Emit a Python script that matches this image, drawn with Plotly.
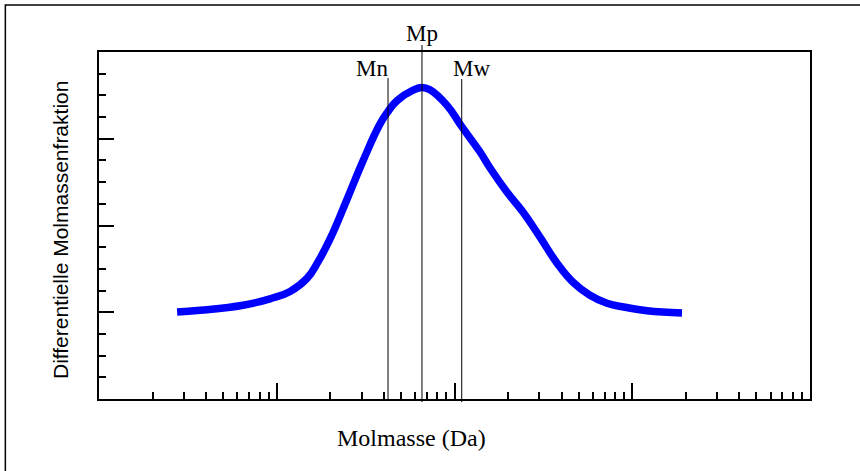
import math
import plotly.graph_objects as go

# Molmasse (Da) and differential mass fraction
molmasse = [275, 370, 646, 916, 1189, 1479, 1706, 1995, 2483, 3055, 3811, 4227,
            4753, 5848, 6561, 7278, 9078, 11015, 13900, 15850, 19720, 24270,
            30270, 37760, 46450, 57810, 72110, 90990, 121100, 190500]
fraktion = [0.003, 0.023, 0.081, 0.155, 0.240, 0.390, 0.580, 0.845, 1.300, 1.744,
            2.171, 2.315, 2.440, 2.560, 2.592, 2.565, 2.385, 2.136, 1.850, 1.663,
            1.386, 1.155, 0.866, 0.566, 0.346, 0.196, 0.104, 0.058, 0.017, -0.008]

marker_names = ["Mn", "Mp", "Mw"]
marker_values = [4227, 6561, 10980]

fig = go.Figure()
fig.add_trace(go.Scatter(
    x=molmasse, y=fraktion, mode="lines",
    line=dict(color="#0000ff", width=7.5, shape="spline", smoothing=1.3),
    showlegend=False, hoverinfo="skip"))

serif = "Liberation Serif, Times New Roman, serif"
# line extents in paper coordinates and label positions
line_spans = {"Mn": (0.0, 0.925), "Mp": (-0.009, 1.02), "Mw": (-0.009, 0.922)}
label_y = {"Mn": 0.912, "Mp": 1.012, "Mw": 0.912}
label_dx = {"Mn": -16, "Mp": 0, "Mw": 10}
for name, val in zip(marker_names, marker_values):
    y0, y1 = line_spans[name]
    fig.add_shape(type="line", xref="x", yref="paper", x0=val, x1=val, y0=y0, y1=y1,
                  line=dict(color="black", width=1))
    fig.add_annotation(x=math.log10(val), xref="x", yref="paper", y=label_y[name], text=name,
                       showarrow=False, xanchor="center", yanchor="bottom", xshift=label_dx[name],
                       font=dict(family=serif, size=23, color="black"))

# outer border (cropped on right/bottom)
fig.add_shape(type="rect", xref="paper", yref="paper", x0=-0.1317, x1=1.2, y0=-0.3, y1=1.1354,
              line=dict(color="black", width=1.5), layer="below")

fig.add_annotation(xref="paper", yref="paper", x=(411 - 99) / 711, y=(399 - 438) / 347,
                   text="Molmasse (Da)", showarrow=False, xanchor="center", yanchor="middle",
                   font=dict(family=serif, size=24, color="black"))
fig.add_annotation(xref="paper", yref="paper", x=(60 - 99) / 711, y=(399 - 230) / 347,
                   text="Differentielle Molmassenfraktion", showarrow=False, textangle=-90,
                   xanchor="center", yanchor="middle",
                   font=dict(family="Liberation Sans, Arial, sans-serif", size=21, color="black"))

fig.update_layout(
    width=860, height=471,
    margin=dict(l=99, r=50, t=52, b=72),
    paper_bgcolor="white", plot_bgcolor="white",
    xaxis=dict(type="log", range=[2, 6], dtick=1, ticks="inside", ticklen=16, tickwidth=1.5,
               tickcolor="black", showticklabels=False, showgrid=False, zeroline=False,
               showline=True, linecolor="black", linewidth=2, mirror=True,
               minor=dict(ticks="inside", ticklen=7, tickwidth=1.5, tickcolor="black",
                          dtick="D1", showgrid=False)),
    yaxis=dict(range=[-1, 3], dtick=1, ticks="inside", ticklen=15, tickwidth=1.5,
               tickcolor="black", showticklabels=False, showgrid=False, zeroline=False,
               showline=True, linecolor="black", linewidth=2, mirror=True,
               minor=dict(ticks="inside", ticklen=7, tickwidth=1.5, tickcolor="black",
                          dtick=0.25, showgrid=False)),
)

fig.write_html("out.html")
